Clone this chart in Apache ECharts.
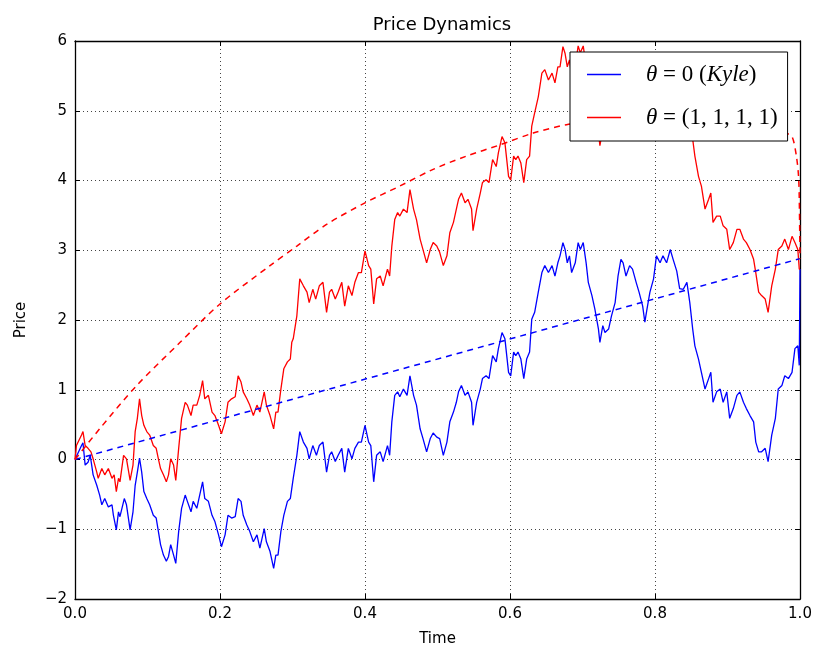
<!DOCTYPE html>
<html>
<head>
<meta charset="utf-8">
<title>Price Dynamics</title>
<script src="https://cdn.jsdelivr.net/npm/echarts@6/dist/echarts.min.js"></script>
<style>
  html, body { margin: 0; padding: 0; background: #fff; }
  #chart { width: 816px; height: 652px; }
</style>
</head>
<body>
<div id="chart"></div>
<script>
// 价格路径数据
const blueT = [0, 0.002, 0.009, 0.011, 0.014, 0.018, 0.021, 0.025, 0.03, 0.034, 0.037, 0.041, 0.046, 0.051, 0.053, 0.057, 0.06, 0.062, 0.068, 0.071,
    0.076, 0.08, 0.083, 0.086, 0.089, 0.092, 0.095, 0.099, 0.103, 0.108, 0.112, 0.115, 0.118, 0.122, 0.126, 0.129, 0.132, 0.136, 0.139, 0.143,
    0.147, 0.152, 0.155, 0.16, 0.163, 0.168, 0.172, 0.176, 0.179, 0.184, 0.189, 0.193, 0.198, 0.202, 0.207, 0.211, 0.216, 0.221, 0.225, 0.229,
    0.232, 0.237, 0.241, 0.246, 0.251, 0.255, 0.261, 0.264, 0.269, 0.274, 0.277, 0.28, 0.284, 0.288, 0.293, 0.297, 0.301, 0.306, 0.31, 0.315,
    0.32, 0.323, 0.328, 0.333, 0.337, 0.342, 0.347, 0.351, 0.354, 0.359, 0.363, 0.368, 0.372, 0.377, 0.382, 0.386, 0.391, 0.395, 0.4, 0.405,
    0.408, 0.412, 0.416, 0.421, 0.425, 0.431, 0.434, 0.437, 0.441, 0.445, 0.448, 0.453, 0.458, 0.462, 0.467, 0.471, 0.476, 0.48, 0.485, 0.49,
    0.494, 0.499, 0.503, 0.508, 0.513, 0.517, 0.522, 0.526, 0.529, 0.533, 0.538, 0.542, 0.547, 0.549, 0.554, 0.559, 0.562, 0.567, 0.571, 0.576,
    0.581, 0.584, 0.589, 0.593, 0.598, 0.601, 0.605, 0.608, 0.611, 0.615, 0.619, 0.623, 0.627, 0.63, 0.634, 0.639, 0.644, 0.648, 0.653, 0.658,
    0.662, 0.666, 0.669, 0.673, 0.676, 0.679, 0.682, 0.685, 0.69, 0.694, 0.697, 0.701, 0.705, 0.708, 0.713, 0.717, 0.722, 0.724, 0.728, 0.731,
    0.736, 0.74, 0.745, 0.749, 0.753, 0.756, 0.76, 0.765, 0.769, 0.774, 0.778, 0.783, 0.786, 0.789, 0.793, 0.798, 0.802, 0.807, 0.811, 0.816,
    0.821, 0.825, 0.83, 0.834, 0.839, 0.844, 0.848, 0.852, 0.855, 0.86, 0.864, 0.869, 0.874, 0.877, 0.88, 0.885, 0.89, 0.894, 0.899, 0.903,
    0.908, 0.913, 0.917, 0.922, 0.926, 0.931, 0.936, 0.939, 0.943, 0.947, 0.952, 0.956, 0.961, 0.966, 0.97, 0.975, 0.979, 0.984, 0.989, 0.993,
    0.997, 0.999, 1.0];
const blueV = [0, 0.01, 0.2, 0.24, -0.08, -0.04, 0.06, -0.22, -0.37, -0.51, -0.65, -0.56, -0.68, -0.65, -0.8, -1.01, -0.75, -0.82, -0.56, -0.65,
    -1.01, -0.75, -0.37, -0.18, 0.02, -0.18, -0.46, -0.56, -0.65, -0.8, -0.84, -1.03, -1.22, -1.37, -1.46, -1.39, -1.22, -1.37, -1.49, -1.03,
    -0.7, -0.51, -0.6, -0.75, -0.6, -0.7, -0.51, -0.32, -0.56, -0.6, -0.8, -0.89, -1.08, -1.25, -1.08, -0.8, -0.84, -0.82, -0.56, -0.6,
    -0.8, -0.94, -1.03, -1.18, -1.08, -1.27, -0.99, -1.18, -1.32, -1.56, -1.37, -1.37, -1.03, -0.8, -0.6, -0.56, -0.27, 0.06, 0.4, 0.25,
    0.16, 0.01, 0.2, 0.06, 0.2, 0.25, -0.18, 0.06, 0.11, -0.03, 0.06, 0.16, -0.18, 0.16, 0.01, 0.16, 0.25, 0.25, 0.49, 0.25,
    0.2, -0.32, 0.06, 0.11, -0.03, 0.2, 0.06, 0.54, 0.92, 0.97, 0.9, 1.01, 0.92, 1.2, 0.92, 0.78, 0.44, 0.3, 0.11, 0.3,
    0.38, 0.32, 0.3, 0.06, 0.25, 0.54, 0.68, 0.82, 0.97, 1.06, 0.92, 0.97, 0.82, 0.49, 0.82, 1.01, 1.16, 1.2, 1.16, 1.49,
    1.4, 1.59, 1.82, 1.73, 1.25, 1.2, 1.54, 1.49, 1.54, 1.44, 1.16, 1.44, 1.54, 2.01, 2.11, 2.4, 2.68, 2.78, 2.68, 2.78,
    2.63, 2.82, 2.92, 3.11, 3.01, 2.82, 2.92, 2.68, 2.82, 3.11, 3.01, 3.11, 2.82, 2.54, 2.35, 2.16, 1.87, 1.68, 1.92, 1.82,
    1.87, 2.06, 2.25, 2.63, 2.87, 2.82, 2.63, 2.78, 2.73, 2.54, 2.4, 2.2, 1.97, 2.16, 2.4, 2.59, 2.92, 2.82, 2.92, 2.82,
    3.01, 2.87, 2.7, 2.45, 2.44, 2.54, 2.25, 1.87, 1.63, 1.44, 1.25, 1.01, 1.16, 1.25, 0.82, 0.97, 1.01, 0.82, 0.97, 0.59,
    0.73, 0.92, 0.97, 0.82, 0.73, 0.63, 0.54, 0.25, 0.11, 0.11, 0.16, -0.03, 0.35, 0.59, 1.01, 1.06, 1.2, 1.16, 1.25, 1.59,
    1.63, 1.35, 2.73];

const redT = [0, 0.002, 0.009, 0.011, 0.014, 0.018, 0.022, 0.025, 0.03, 0.032, 0.037, 0.041, 0.046, 0.051, 0.054, 0.057, 0.06, 0.062, 0.067, 0.071,
    0.076, 0.08, 0.083, 0.086, 0.089, 0.092, 0.095, 0.099, 0.103, 0.108, 0.112, 0.115, 0.118, 0.122, 0.126, 0.129, 0.132, 0.136, 0.139, 0.143,
    0.147, 0.152, 0.155, 0.16, 0.163, 0.168, 0.172, 0.176, 0.179, 0.184, 0.189, 0.193, 0.198, 0.202, 0.207, 0.211, 0.216, 0.221, 0.225, 0.229,
    0.232, 0.237, 0.241, 0.246, 0.251, 0.255, 0.261, 0.264, 0.269, 0.274, 0.277, 0.28, 0.284, 0.288, 0.293, 0.297, 0.299, 0.301, 0.306, 0.31,
    0.315, 0.32, 0.323, 0.328, 0.332, 0.337, 0.342, 0.347, 0.351, 0.354, 0.359, 0.363, 0.368, 0.372, 0.377, 0.382, 0.386, 0.391, 0.395, 0.4,
    0.405, 0.408, 0.412, 0.416, 0.421, 0.425, 0.431, 0.434, 0.437, 0.441, 0.445, 0.448, 0.453, 0.458, 0.462, 0.467, 0.471, 0.476, 0.48, 0.485,
    0.49, 0.494, 0.499, 0.503, 0.508, 0.513, 0.517, 0.522, 0.526, 0.529, 0.533, 0.538, 0.542, 0.547, 0.549, 0.554, 0.559, 0.562, 0.567, 0.571,
    0.576, 0.581, 0.584, 0.589, 0.593, 0.598, 0.601, 0.605, 0.608, 0.611, 0.615, 0.619, 0.623, 0.627, 0.63, 0.634, 0.639, 0.644, 0.648, 0.653,
    0.658, 0.662, 0.666, 0.669, 0.673, 0.676, 0.679, 0.682, 0.685, 0.69, 0.694, 0.697, 0.701, 0.705, 0.708, 0.713, 0.717, 0.722, 0.724, 0.728,
    0.731, 0.736, 0.74, 0.745, 0.749, 0.753, 0.756, 0.76, 0.765, 0.769, 0.774, 0.778, 0.783, 0.786, 0.789, 0.793, 0.798, 0.802, 0.807, 0.811,
    0.816, 0.821, 0.825, 0.83, 0.834, 0.839, 0.844, 0.848, 0.852, 0.855, 0.86, 0.864, 0.869, 0.874, 0.877, 0.88, 0.885, 0.89, 0.894, 0.899,
    0.903, 0.908, 0.913, 0.917, 0.922, 0.926, 0.931, 0.936, 0.939, 0.943, 0.947, 0.952, 0.956, 0.961, 0.966, 0.97, 0.975, 0.979, 0.984, 0.989,
    0.993, 0.997, 0.999, 1.0];
const redV = [0, 0.2, 0.35, 0.4, 0.2, 0.16, 0.11, 0.01, -0.18, -0.27, -0.13, -0.22, -0.13, -0.27, -0.22, -0.46, -0.27, -0.32, 0.06, 0.01,
    -0.3, -0.08, 0.4, 0.59, 0.87, 0.63, 0.49, 0.4, 0.35, 0.2, 0.16, 0.01, -0.13, -0.22, -0.32, -0.22, 0.01, -0.08, -0.3, 0.16,
    0.59, 0.82, 0.78, 0.63, 0.78, 0.78, 0.92, 1.13, 0.87, 0.92, 0.68, 0.63, 0.49, 0.37, 0.54, 0.82, 0.87, 0.9, 1.2, 1.11,
    0.97, 0.87, 0.78, 0.63, 0.78, 0.68, 0.97, 0.78, 0.63, 0.44, 0.68, 0.68, 1.01, 1.3, 1.4, 1.44, 1.68, 1.73, 2.06, 2.59,
    2.49, 2.4, 2.25, 2.44, 2.3, 2.49, 2.54, 2.11, 2.4, 2.44, 2.3, 2.4, 2.54, 2.2, 2.49, 2.35, 2.54, 2.68, 2.68, 2.99,
    2.78, 2.73, 2.23, 2.59, 2.63, 2.49, 2.73, 2.63, 3.06, 3.44, 3.54, 3.49, 3.59, 3.54, 3.87, 3.59, 3.44, 3.16, 3.01, 2.82,
    3.01, 3.11, 3.06, 2.97, 2.78, 2.92, 3.25, 3.4, 3.59, 3.73, 3.82, 3.68, 3.73, 3.59, 3.28, 3.59, 3.82, 3.97, 4.01, 3.97,
    4.3, 4.2, 4.4, 4.63, 4.54, 4.06, 4.01, 4.35, 4.3, 4.35, 4.25, 3.97, 4.3, 4.35, 4.78, 4.97, 5.2, 5.54, 5.59, 5.44,
    5.54, 5.4, 5.63, 5.63, 5.92, 5.82, 5.63, 5.73, 5.5, 5.64, 5.93, 5.83, 5.93, 5.64, 5.36, 5.17, 4.98, 4.69, 4.5, 4.74,
    4.64, 4.69, 4.88, 5.07, 5.45, 5.69, 5.64, 5.45, 5.6, 5.55, 5.36, 5.22, 5.02, 4.79, 4.98, 5.22, 5.41, 5.74, 5.64, 5.74,
    5.64, 5.83, 5.69, 5.48, 5.22, 5.24, 5.33, 5.0, 4.59, 4.35, 4.06, 3.92, 3.59, 3.73, 3.82, 3.4, 3.49, 3.49, 3.35, 3.3,
    3.01, 3.11, 3.3, 3.3, 3.16, 3.11, 3.01, 2.87, 2.68, 2.4, 2.35, 2.3, 2.11, 2.49, 2.73, 3.01, 3.06, 3.16, 3.01, 3.2,
    3.11, 3.01, 2.73, 2.73];

// 期望价格（虚线）
const blueMeanT = [0, 1.0];
const blueMeanV = [0, 2.88];
const redMeanT = [0, 0.034, 0.085, 0.145, 0.2, 0.269, 0.306, 0.347, 0.4, 0.448, 0.494, 0.54, 0.586, 0.632, 0.678,
    0.72, 0.76, 0.8, 0.85, 0.9, 0.95, 0.98, 0.989, 0.995, 0.998, 0.999, 1.0];
const redMeanV = [0, 0.44, 1.06, 1.68, 2.23, 2.78, 3.06, 3.37, 3.68, 3.92, 4.16, 4.35, 4.51, 4.68, 4.8,
    4.86, 4.89, 4.9, 4.88, 4.84, 4.76, 4.68, 4.63, 4.35, 4.06, 3.73, 2.88];

const xTicks = [0, 0.2, 0.4, 0.6, 0.8, 1.0];
const yTicks = [-2, -1, 0, 1, 2, 3, 4, 5, 6];

const legendNames = ['θ=0 (Kyle)', 'θ=(1,1,1,1)'];
const legendLabels = {
    'θ=0 (Kyle)': '{i|θ} = 0 ({i|Kyle})',
    'θ=(1,1,1,1)': '{i|θ} = (1, 1, 1, 1)'
};

function zip(ts, vs) {
    return ts.map((t, i) => [t, vs[i]]);
}

function axisX(pos, showLabel) {
    return {
        type: 'value', position: pos,
        min: xTicks[0], max: xTicks[xTicks.length - 1], interval: 0.2,
        name: showLabel ? 'Time' : '', nameLocation: 'middle', nameGap: 33,
        nameTextStyle: { color: '#000', fontSize: 15, fontFamily: 'DejaVu Sans' },
        axisLine: { show: true, onZero: false, lineStyle: { color: '#000', width: 1.3 } },
        axisTick: { show: true, inside: true, length: 5, lineStyle: { color: '#000' } },
        axisLabel: { show: showLabel, color: '#000', fontSize: 15, fontFamily: 'DejaVu Sans', margin: 8,
            formatter: v => v.toFixed(1) },
        splitLine: { show: showLabel, lineStyle: { color: '#444', type: [1, 3], width: 1 } }
    };
}

function axisY(pos, showLabel) {
    return {
        type: 'value', position: pos,
        min: yTicks[0], max: yTicks[yTicks.length - 1], interval: 1,
        name: showLabel ? 'Price' : '', nameLocation: 'middle', nameGap: 46, nameRotate: 90,
        nameTextStyle: { color: '#000', fontSize: 15, fontFamily: 'DejaVu Sans' },
        axisLine: { show: true, onZero: false, lineStyle: { color: '#000', width: 1.3 } },
        axisTick: { show: true, inside: true, length: 5, lineStyle: { color: '#000' } },
        axisLabel: { show: showLabel, color: '#000', fontSize: 15, fontFamily: 'DejaVu Sans', margin: 8,
            formatter: v => String(v).replace('-', '\u2212') },
        splitLine: { show: showLabel, lineStyle: { color: '#444', type: [1, 3], width: 1 } }
    };
}

const chart = echarts.init(document.getElementById('chart'));
chart.setOption({
    animation: false,
    backgroundColor: '#fff',
    title: {
        text: 'Price Dynamics', left: 437, top: 11, textAlign: 'center',
        textStyle: { color: '#000', fontSize: 18, fontWeight: 'normal', fontFamily: 'DejaVu Sans' }
    },
    grid: { left: 75, right: 16, top: 41, bottom: 51 },
    xAxis: [axisX('bottom', true), axisX('top', false)],
    yAxis: [axisY('left', true), axisY('right', false)],
    legend: {
        data: legendNames, orient: 'vertical', left: 570, top: 52, zlevel: 1,
        padding: [11, 10, 12, 17], itemGap: 20, itemWidth: 34, itemHeight: 1.5, icon: 'rect',
        backgroundColor: '#fff', borderColor: '#000', borderWidth: 1, borderRadius: 0,
        formatter: name => legendLabels[name],
        textStyle: {
            color: '#000', fontSize: 23, fontFamily: 'Liberation Serif', padding: [0, 0, 0, 20],
            rich: { i: { fontStyle: 'italic', fontSize: 23, fontFamily: 'Liberation Serif', color: '#000' } }
        }
    },
    series: [
        { name: legendNames[0], type: 'line', symbol: 'none', data: zip(blueT, blueV),
          lineStyle: { color: '#0000ff', width: 1.3 }, itemStyle: { color: '#0000ff' } },
        { name: legendNames[1], type: 'line', symbol: 'none', data: zip(redT, redV),
          lineStyle: { color: '#ff0000', width: 1.3 }, itemStyle: { color: '#ff0000' } },
        { name: 'blueMean', type: 'line', symbol: 'none', data: zip(blueMeanT, blueMeanV),
          lineStyle: { color: '#0000ff', width: 1.5, type: [6, 5] } },
        { name: 'redMean', type: 'line', symbol: 'none', smooth: 0.3, data: zip(redMeanT, redMeanV),
          lineStyle: { color: '#ff0000', width: 1.5, type: [6, 5] } }
    ]
});
</script>
</body>
</html>
